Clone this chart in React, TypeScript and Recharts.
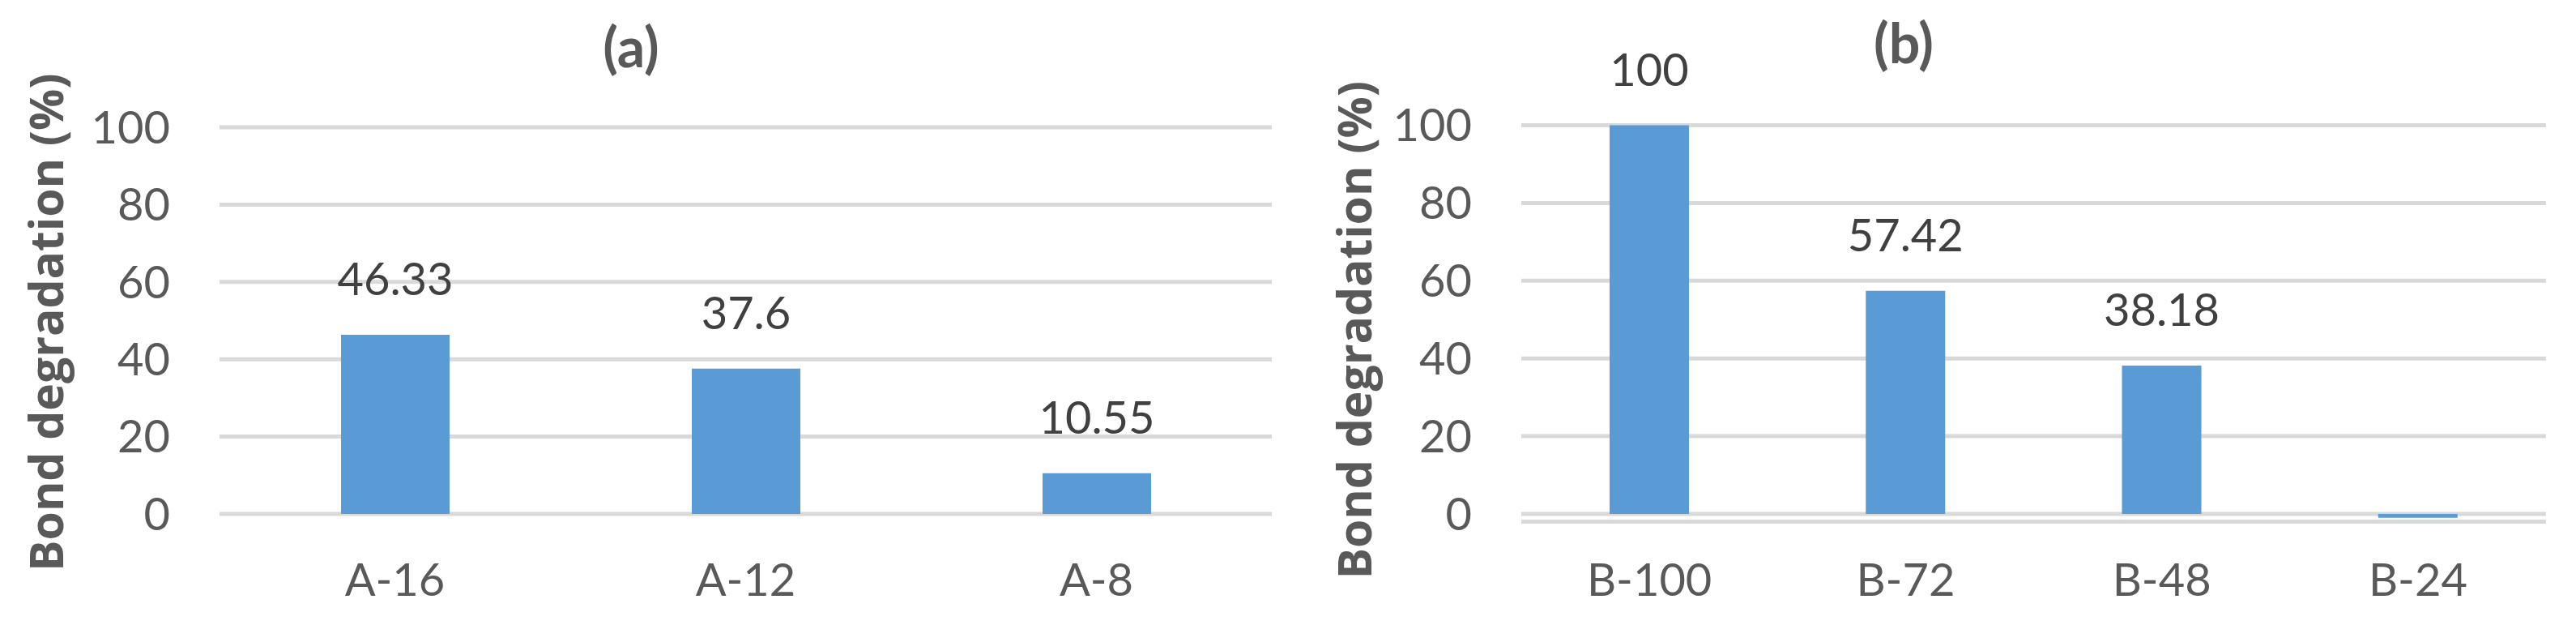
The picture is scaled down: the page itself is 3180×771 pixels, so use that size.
import React from 'react';
import { BarChart, Bar, XAxis, YAxis, CartesianGrid, LabelList, Label } from 'recharts';

const categoriesA = ['A-16', 'A-12', 'A-8'];
const valuesA = [46.33, 37.6, 10.55];
const categoriesB = ['B-100', 'B-72', 'B-48', 'B-24'];
const valuesB = [100, 57.42, 38.18, -1];
const yTicks = [0, 20, 40, 60, 80, 100];
const yAxisTitle = 'Bond degradation (%)';
const titleA = '(a)';
const titleB = '(b)';

const dataA = categoriesA.map((name, i) => ({ name, value: valuesA[i] }));
const dataB = categoriesB.map((name, i) => ({ name, value: valuesB[i] }));

const FONT = 'Lato, "Open Sans", sans-serif';
const LABEL_FONT = '"Open Sans", Lato, sans-serif';
const AXIS_COLOR = '#595959';
const LABEL_COLOR = '#404040';
const BAR_COLOR = '#5b9bd5';
const GRID_COLOR = '#d9d9d9';

const tickStyle = { fontFamily: FONT, fontSize: 56, fill: AXIS_COLOR };
const fmt = (v: any) => (typeof v === 'number' && v > 0 ? String(v) : '');
const yLabelStyle = { textAnchor: 'middle' as const, fontFamily: LABEL_FONT, fontSize: 57, fontWeight: 700, fill: AXIS_COLOR };

export default function App() {
  return (
    <div style={{ position: 'absolute', left: 0, top: 0, width: 3180, height: 771, background: '#fff', overflow: 'hidden' }}>
      <div style={{ position: 'absolute', left: 0, top: 0 }}>
        <BarChart width={1600} height={771} data={dataA} margin={{ top: 157, right: 30, bottom: 0, left: 0 }}>
          <CartesianGrid vertical={false} stroke={GRID_COLOR} strokeWidth={5} />
          <XAxis dataKey="name" axisLine={false} tickLine={false} tickSize={0} tickMargin={61} height={137} tick={tickStyle} interval={0} />
          <YAxis domain={[0, 100]} ticks={yTicks} axisLine={false} tickLine={false} tickSize={0} tickMargin={61} width={271} tick={tickStyle}>
            <Label value={yAxisTitle} angle={-90} position="insideLeft" offset={58} dy={2} style={yLabelStyle} />
          </YAxis>
          <Bar dataKey="value" fill={BAR_COLOR} barSize={134} isAnimationActive={false}>
            <LabelList dataKey="value" position="top" offset={49} formatter={fmt}
              style={{ fontFamily: FONT, fontSize: 56, fill: LABEL_COLOR }} />
          </Bar>
        </BarChart>
      </div>
      <div style={{ position: 'absolute', left: 1600, top: 0 }}>
        <BarChart width={1580} height={771} data={dataB} margin={{ top: 154.5, right: 37, bottom: 0, left: 0 }}>
          <CartesianGrid vertical={false} stroke={GRID_COLOR} strokeWidth={5} />
          <XAxis dataKey="name" axisLine={false} tickLine={false} tickSize={0} tickMargin={51.4} height={127.4} tick={tickStyle} interval={0} />
          <YAxis domain={[-2, 100]} ticks={yTicks} axisLine={false} tickLine={false} tickSize={0} tickMargin={61} width={278} tick={tickStyle}>
            <Label value={yAxisTitle} angle={-90} position="insideLeft" offset={73} dy={8} style={yLabelStyle} />
          </YAxis>
          <Bar dataKey="value" fill={BAR_COLOR} barSize={98} isAnimationActive={false}>
            <LabelList dataKey="value" position="top" offset={49} formatter={fmt}
              style={{ fontFamily: FONT, fontSize: 56, fill: LABEL_COLOR }} />
          </Bar>
        </BarChart>
      </div>
      <svg width={3180} height={771} style={{ position: 'absolute', left: 0, top: 0, pointerEvents: 'none' }}>
        <text x={779} y={83} textAnchor="middle" fontFamily={FONT} fontSize={68} fontWeight={700} fill={AXIS_COLOR}>{titleA}</text>
        <text x={2350} y={78} textAnchor="middle" fontFamily={FONT} fontSize={68} fontWeight={700} fill={AXIS_COLOR}>{titleB}</text>
      </svg>
    </div>
  );
}
